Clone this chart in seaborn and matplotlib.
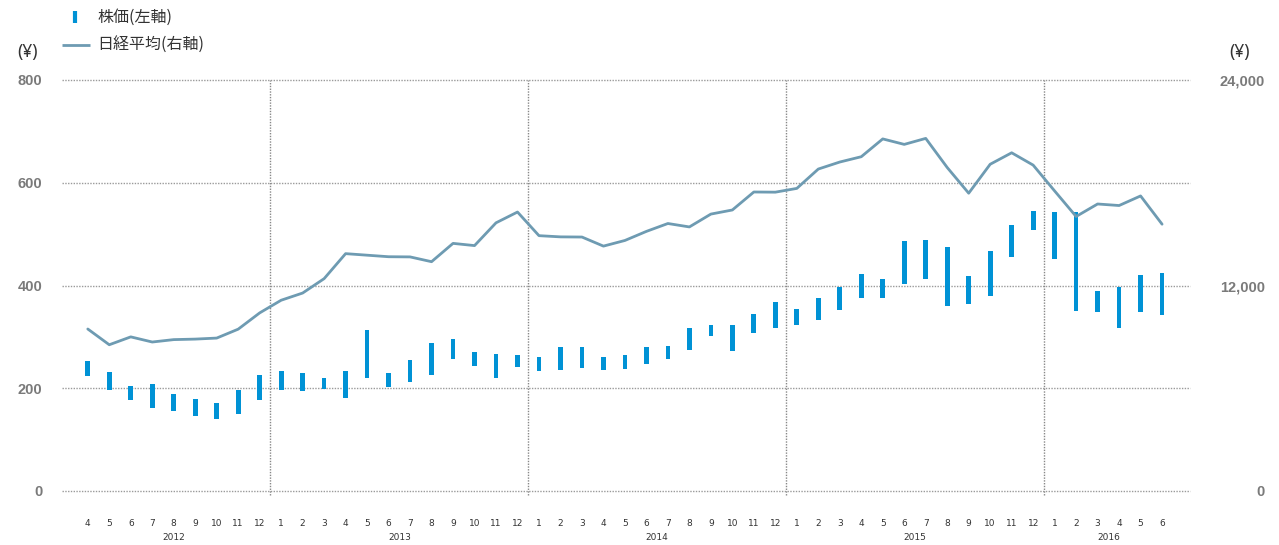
import matplotlib
matplotlib.use("Agg")
import matplotlib.pyplot as plt
import matplotlib.transforms as mtransforms
from matplotlib.lines import Line2D
import seaborn as sns
import pandas as pd

sns.set_style("white")
plt.rcParams["font.family"] = ["Noto Sans CJK JP", "DejaVu Sans"]

# 月ラベル (2012/4 - 2016/6)
meses = [4, 5, 6, 7, 8, 9, 10, 11, 12] + list(range(1, 13)) * 3 + [1, 2, 3, 4, 5, 6]
anos = ["2012", "2013", "2014", "2015", "2016"]
centro_ano = [4, 14.5, 26.5, 38.5, 47.5]
separadores = [8.5, 20.5, 32.5, 44.5]

# 株価 高値 / 安値 (左軸)
alta = [253, 232, 204, 208, 189, 179, 171, 197, 226,
        234, 230, 220, 234, 313, 230, 255, 288, 296, 270, 267, 265,
        261, 280, 280, 261, 265, 280, 282, 317, 323, 323, 344, 368,
        354, 376, 397, 422, 413, 487, 489, 475, 418, 467, 518, 545,
        543, 543, 389, 397, 420, 424]
baixa = [224, 197, 177, 161, 156, 146, 140, 150, 177,
         197, 195, 199, 181, 220, 202, 212, 226, 257, 243, 220, 241,
         234, 236, 240, 236, 237, 247, 257, 274, 302, 273, 308, 317,
         323, 333, 352, 376, 376, 403, 413, 360, 364, 380, 455, 508,
         452, 350, 348, 317, 348, 343]

# 日経平均 (右軸)
nikkei = [9460, 8540, 9000, 8700, 8840, 8870, 8930, 9450, 10400,
          11140, 11560, 12400, 13860, 13770, 13680, 13670, 13390, 14460, 14330, 15660, 16290,
          14910, 14840, 14830, 14300, 14630, 15160, 15620, 15420, 16170, 16410, 17460, 17450,
          17670, 18800, 19210, 19520, 20560, 20240, 20590, 18890, 17390, 19080, 19750, 19030,
          17520, 16030, 16760, 16670, 17230, 15580]

COR_BARRA = "#0092d5"
COR_LINHA = "#6e9bb2"
COR_GRADE = "#9a9a9a"
COR_NUM = "#7a7a7a"

df = pd.DataFrame({"x": range(len(meses)), "alta": alta, "baixa": baixa, "nikkei": nikkei})

fig = plt.figure(figsize=(12.79, 5.45), dpi=100)
ax = fig.add_axes([62 / 1279, 1 - 491 / 545, (1190 - 62) / 1279, (491 - 80) / 545])

ax.bar(df["x"], df["alta"] - df["baixa"], bottom=df["baixa"], width=0.22,
       color=COR_BARRA, linewidth=0, zorder=3)
ax.set_ylim(0, 800)
ax.set_xlim(-1.2, 51.3)
ax.set_yticks([0, 200, 400, 600, 800])
for y in [0, 200, 400, 600, 800]:
    ax.axhline(y, color=COR_GRADE, lw=1, ls=(0, (1, 1)), zorder=1, clip_on=False)
for x in separadores:
    ax.axvline(x, ymin=-0.01, ymax=1, color="#888888", lw=1, ls=(0, (1, 1)), zorder=1,
               clip_on=False)
for s in ax.spines.values():
    s.set_visible(False)

ax.set_xticks(df["x"])
ax.set_xticklabels([str(m) for m in meses], fontsize=6.5, color="#333333",
                   family=["Liberation Sans Narrow", "DejaVu Sans"])
ax.tick_params(axis="x", length=0, pad=20)
ax.tick_params(axis="y", length=0, pad=14, labelsize=10.5, labelcolor=COR_NUM)
for t in ax.get_yticklabels():
    t.set_fontweight("bold")
    t.set_family(["Liberation Sans", "DejaVu Sans"])

trans = mtransforms.blended_transform_factory(ax.transData, ax.transAxes)
for c, a in zip(centro_ano, anos):
    ax.text(c, -0.112, a, transform=trans, ha="center", va="center", fontsize=6.5,
            color="#333333", family=["Liberation Sans Narrow", "DejaVu Sans"])

ax2 = ax.twinx()
sns.lineplot(data=df, x="x", y="nikkei", ax=ax2, color=COR_LINHA, lw=2, zorder=4)
ax2.set_ylim(0, 24000)
ax2.set_yticks([0, 12000, 24000])
ax2.set_yticklabels(["0", "12,000", "24,000"])
ax2.set_ylabel("")
ax2.set_xlabel("")
ax.set_xlabel("")
ax2.tick_params(axis="y", length=0, pad=54, labelsize=10.5, labelcolor=COR_NUM)
for t in ax2.get_yticklabels():
    t.set_fontweight("bold")
    t.set_horizontalalignment("right")
    t.set_family(["Liberation Sans", "DejaVu Sans"])
for s in ax2.spines.values():
    s.set_visible(False)

# unidades
for xu in [27, 1240]:
    fig.text(xu / 1279, 1 - 52 / 545, "(¥)", ha="center", va="center", fontsize=12.5,
             color="#333333", family=["Noto Sans", "DejaVu Sans"])

# legenda
fig.add_artist(Line2D([75 / 1279, 75 / 1279], [1 - 11 / 545, 1 - 23 / 545],
                      color=COR_BARRA, lw=3, solid_capstyle="butt"))
fig.add_artist(Line2D([62 / 1279, 90 / 1279], [1 - 45 / 545, 1 - 45 / 545],
                      color=COR_LINHA, lw=2, solid_capstyle="butt"))
fig.text(97 / 1279, 1 - 17 / 545, "株価(左軸)", ha="left", va="center", fontsize=11.5, color="#333333")
fig.text(97 / 1279, 1 - 45 / 545, "日経平均(右軸)", ha="left", va="center", fontsize=11.5, color="#333333")

fig.savefig("out.png", dpi=100)
